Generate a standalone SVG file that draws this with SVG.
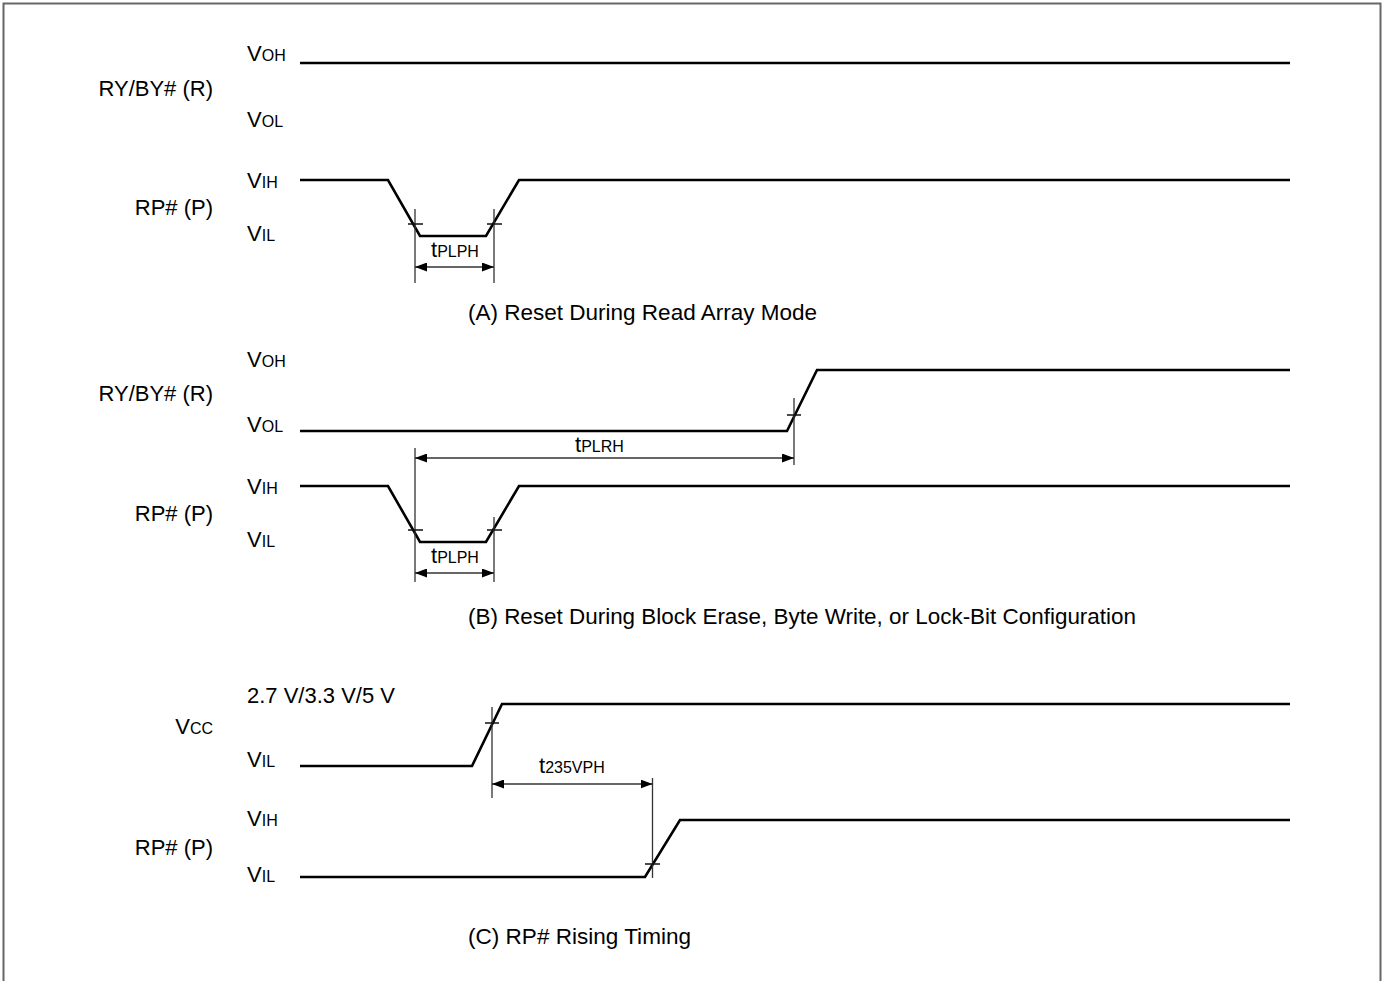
<svg xmlns="http://www.w3.org/2000/svg" width="1384" height="981" viewBox="0 0 1384 981">
<style>
text{font-family:"Liberation Sans",Arial,sans-serif;fill:#000}
.lbl{font-size:22px}
.sub{font-size:16px}
.sig{fill:none;stroke:#000;stroke-width:2.6;stroke-linejoin:miter}
.dim{fill:none;stroke:#333;stroke-width:1.3}
.tick{fill:none;stroke:#111;stroke-width:1.3}
.arr{fill:none;stroke:#333;stroke-width:1.4;marker-start:url(#ah);marker-end:url(#ah)}
</style>
<defs>
<marker id="ah" viewBox="0 0 12 9" refX="12" refY="4.5" markerWidth="12" markerHeight="9" markerUnits="userSpaceOnUse" orient="auto-start-reverse">
<path d="M0,0 L12,4.5 L0,9 Z" fill="#000"/>
</marker>
</defs>
<rect x="3.5" y="3.5" width="1377" height="990" fill="#fff" stroke="#666" stroke-width="2"/>

<g id="labels-A">
<text class="lbl" x="247" y="61">V<tspan class="sub">OH</tspan></text>
<text class="lbl" x="213" y="96" text-anchor="end">RY/BY# (R)</text>
<text class="lbl" x="247" y="127">V<tspan class="sub">OL</tspan></text>
<text class="lbl" x="247" y="188">V<tspan class="sub">IH</tspan></text>
<text class="lbl" x="213" y="215" text-anchor="end">RP# (P)</text>
<text class="lbl" x="247" y="241">V<tspan class="sub">IL</tspan></text>
<text class="lbl" x="468" y="320" textLength="349" lengthAdjust="spacingAndGlyphs">(A) Reset During Read Array Mode</text>
</g>
<g id="labels-B">
<text class="lbl" x="247" y="367">V<tspan class="sub">OH</tspan></text>
<text class="lbl" x="213" y="401" text-anchor="end">RY/BY# (R)</text>
<text class="lbl" x="247" y="432">V<tspan class="sub">OL</tspan></text>
<text class="lbl" x="247" y="494">V<tspan class="sub">IH</tspan></text>
<text class="lbl" x="213" y="521" text-anchor="end">RP# (P)</text>
<text class="lbl" x="247" y="547">V<tspan class="sub">IL</tspan></text>
<text class="lbl" x="468" y="624" textLength="668" lengthAdjust="spacingAndGlyphs">(B) Reset During Block Erase, Byte Write, or Lock-Bit Configuration</text>
</g>
<g id="labels-C">
<text class="lbl" x="247" y="703">2.7 V/3.3 V/5 V</text>
<text class="lbl" x="213" y="734" text-anchor="end">V<tspan class="sub">CC</tspan></text>
<text class="lbl" x="247" y="767">V<tspan class="sub">IL</tspan></text>
<text class="lbl" x="247" y="826">V<tspan class="sub">IH</tspan></text>
<text class="lbl" x="213" y="855" text-anchor="end">RP# (P)</text>
<text class="lbl" x="247" y="882">V<tspan class="sub">IL</tspan></text>
<text class="lbl" x="468" y="944" textLength="223" lengthAdjust="spacingAndGlyphs">(C) RP# Rising Timing</text>
</g>

<g id="signal-A-RY"><path class="sig" d="M300,63 H1290"/></g>
<g id="signal-A-RP"><path class="sig" d="M300,180 H388 L420,236 H486 L519,180 H1290"/></g>
<g id="signal-B-RY"><path class="sig" d="M300,431 H787 L817,370 H1290"/></g>
<g id="signal-B-RP"><path class="sig" d="M300,486 H388 L420,542 H486 L519,486 H1290"/></g>
<g id="signal-C-VCC"><path class="sig" d="M300,766 H472 L502,704 H1290"/></g>
<g id="signal-C-RP"><path class="sig" d="M300,877 H645 L680,820 H1290"/></g>

<g id="connectors">
<path class="dim" d="M415,209 V283 M494,209 V283"/>
<path class="tick" d="M408,224 H423 M487,224 H502"/>
<path class="arr" d="M415,267 H494"/>
<text class="lbl" x="431" y="257">t<tspan class="sub">PLPH</tspan></text>
<path class="dim" d="M415,448 V582 M794,398 V465 M494,517 V582"/>
<path class="tick" d="M787,415 H801 M408,530 H423 M487,530 H502"/>
<path class="arr" d="M415,458 H794"/>
<text class="lbl" x="575" y="452">t<tspan class="sub">PLRH</tspan></text>
<path class="arr" d="M415,573 H494"/>
<text class="lbl" x="431" y="563">t<tspan class="sub">PLPH</tspan></text>
<path class="dim" d="M492,707 V798 M652.5,778 V878"/>
<path class="tick" d="M485,723 H499 M645,864 H660"/>
<path class="arr" d="M492,784 H652.5"/>
<text class="lbl" x="539" y="773">t<tspan class="sub">235VPH</tspan></text>
</g>
</svg>
